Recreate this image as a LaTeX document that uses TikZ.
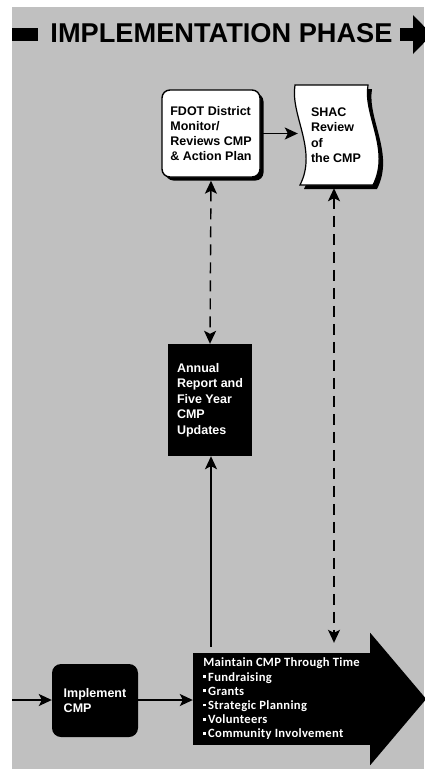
\documentclass[tikz,border=0pt]{standalone}
\usepackage{fontspec}
\setmainfont{Liberation Sans}
\newfontfamily\calibrifont[LetterSpace=2.5]{Carlito}
\usetikzlibrary{arrows.meta,shadows}
\definecolor{panelgray}{HTML}{C0C0C0}
\newcommand{\sqbul}{\rule[0.25em]{0.22em}{0.22em}\,}
\tikzstyle{whitebox} = [rectangle, rounded corners=8pt, draw=black, line width=1.4pt, fill=white, align=left, font=\bfseries\fontsize{12.5}{15.3}\selectfont, drop shadow={shadow xshift=3.5pt, shadow yshift=-3.5pt, opacity=1, fill=black}]
\tikzstyle{darkbox} = [rectangle, fill=black, text=white, align=left, font=\bfseries\fontsize{12.5}{15.5}\selectfont]
\tikzstyle{plainlabel} = [align=left, font=\bfseries\fontsize{12.5}{15.5}\selectfont]
\tikzstyle{arrow} = [line width=1.4pt,->,>={Stealth[length=13pt,width=12pt,inset=3pt]}]
\tikzstyle{dasharrow} = [arrow, <->, dash pattern=on 11pt off 7pt]

\begin{document}
\begin{tikzpicture}[x=1pt, y=-1pt]
  \useasboundingbox (0,0) rectangle (424,769);
  \fill[panelgray] (12,7) rectangle (424,769);

  % title band
  \node (title) at (221.5,33.5) {\bfseries\fontsize{27.2}{30}\selectfont IMPLEMENTATION PHASE};
  \fill (12,28) rectangle (38,41);
  \fill (400,28) rectangle (413,41);
  \fill (413,15) -- (432,34.5) -- (413,54) -- cycle;

  \node (fdot) [whitebox, minimum width=98pt, minimum height=87pt] at (211,133.5) {FDOT District\\Monitor/\\Reviews CMP\\\& Action Plan};

  % wavy SHAC sheet, shadow first
  \fill[shift={(4,4)}] (295,85) -- (368,85) .. controls (363,115) and (391,150) .. (373,185) -- (300,185) .. controls (318,150) and (290,115) .. (295,85) -- cycle;
  \filldraw[fill=white, line width=1.2pt] (295,85) -- (368,85) .. controls (363,115) and (391,150) .. (373,185) -- (300,185) .. controls (318,150) and (290,115) .. (295,85) -- cycle;
  \node (shac) [plainlabel, minimum width=76pt, minimum height=100pt] at (336,135) {SHAC\\Review\\of\\the CMP};

  \node (annual) [darkbox, minimum width=84pt, minimum height=112pt] at (210,400) {Annual\\Report and\\Five Year\\CMP\\Updates};

  \node (implement) [darkbox, rounded corners=9pt, minimum width=86pt, minimum height=73pt] at (95,700.5) {Implement\\CMP};

  \node (maintain) [darkbox, minimum width=177pt, minimum height=92pt, font=\calibrifont\bfseries\fontsize{12.6}{14.2}\selectfont] at (281.5,699) {Maintain CMP Through Time\\\sqbul Fundraising\\\sqbul Grants\\\sqbul Strategic Planning\\\sqbul Volunteers\\\sqbul Community Involvement};
  \fill ([yshift=20pt]maintain.north east) -- ([xshift=56pt]maintain.east) -- ([yshift=-20pt]maintain.south east) -- cycle;

  \coordinate (start) at (12,700);

  \draw [arrow] (fdot.east) -- (fdot.east -| shac.west);
  \draw [dasharrow] ([yshift=-3pt]fdot.south) -- (annual.north);
  \draw [dasharrow] ([xshift=-2pt,yshift=-3pt]shac.south) -- ([xshift=-2pt,yshift=10pt]shac.south |- maintain.north);
  \draw [arrow] ([xshift=1pt,yshift=6pt]annual.south |- maintain.north) -- ([xshift=1pt]annual.south);
  \draw [arrow] (start) -- (implement.west |- start);
  \draw [arrow] (implement.east |- start) -- (maintain.west |- start);
\end{tikzpicture}
\end{document}
